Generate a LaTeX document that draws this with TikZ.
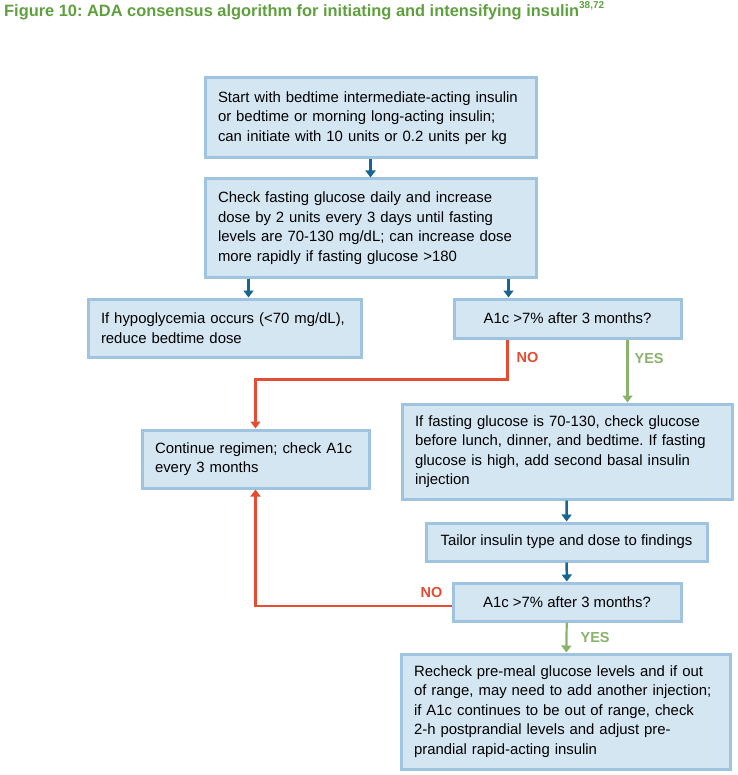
\documentclass[tikz,border=0pt]{standalone}
\usepackage{fontspec}
\setmainfont{Liberation Sans}
\usepackage{tikz}
\usetikzlibrary{arrows.meta}
\usetikzlibrary{positioning}
\definecolor{boxfill}{RGB}{213,230,243}
\definecolor{boxline}{RGB}{158,196,224}
\definecolor{flowblue}{RGB}{23,101,145}
\definecolor{nored}{RGB}{228,77,52}
\definecolor{yesgreen}{RGB}{139,178,107}
\definecolor{titlegreen}{RGB}{95,160,62}
\frenchspacing
\tikzset{
    stepbox/.style={
           rectangle,
           draw=boxline, fill=boxfill,
           line width=3pt,
           inner xsep=13pt, inner ysep=4pt,
           align=left,
           font=\fontsize{14.9}{19.5}\selectfont,
           },
    askbox/.style={
           stepbox,
           align=center,
           },
    flow/.style={
           draw=flowblue, line width=2.5pt,
           -{Triangle[width=10pt,length=7pt]},
           },
    noflow/.style={
           draw=nored, line width=2.2pt,
           -{Triangle[width=10pt,length=7pt]},
           },
    yesflow/.style={
           draw=yesgreen, line width=2.2pt,
           -{Triangle[width=10pt,length=7pt]},
           },
    answer/.style={
           font=\fontsize{14.5}{14.5}\selectfont\bfseries,
           inner sep=0pt,
           },
}
\begin{document}
\begin{tikzpicture}[x=1pt, y=-1pt]
 \useasboundingbox (0,0) rectangle (737,775);

 % Title with reference numbers
 \node[anchor=base west, inner sep=0pt, text=titlegreen,
  font=\fontsize{16.4}{16.4}\selectfont\bfseries] (title) at (4,17)
	{Figure 10: ADA consensus algorithm for initiating and intensifying insulin\raisebox{8pt}{\fontsize{10}{10}\selectfont 38,72}};

 % Left-aligned steps, boxes sized as in the chart
 \node[stepbox, text width=305pt, minimum height=80pt] (START) at (370.5,118)
	{Start with bedtime intermediate-acting insulin\\
	 or bedtime or morning long-acting insulin;\\
	 can initiate with 10 units or 0.2 units per kg};

 \node[stepbox, text width=305pt, minimum height=98pt] (CHECK) at (370.5,228)
	{Check fasting glucose daily and increase\\
	 dose by 2 units every 3 days until fasting\\
	 levels are 70-130 mg/dL; can increase dose\\
	 more rapidly if fasting glucose >180};

 \node[stepbox, text width=247pt, minimum height=58pt] (HYPO) at (224.5,328)
	{If hypoglycemia occurs (<70 mg/dL),\\
	 reduce bedtime dose};

 % Questions: centred text
 \node[askbox, minimum width=227pt, minimum height=39pt] (ASKA) at (567.5,318.5)
	{A1c >7\% after 3 months?};

 \node[stepbox, text width=201pt, minimum height=58pt] (CONT) at (255.5,459)
	{Continue regimen; check A1c\\
	 every 3 months};

 \node[stepbox, text width=304pt, minimum height=95pt] (FAST) at (567,451.5)
	{If fasting glucose is 70-130, check glucose\\
	 before lunch, dinner, and bedtime. If fasting\\
	 glucose is high, add second basal insulin\\
	 injection};

 \node[askbox, minimum width=281pt, minimum height=38pt] (TAIL) at (566.5,542)
	{Tailor insulin type and dose to findings};

 \node[askbox, minimum width=228pt, minimum height=38pt] (ASKB) at (567,602)
	{A1c >7\% after 3 months?};

 \node[stepbox, text width=303pt, minimum height=115pt] (RECH) at (565.5,711.5)
	{Recheck pre-meal glucose levels and if out\\
	 of range, may need to add another injection;\\
	 if A1c continues to be out of range, check\\
	 2-h postprandial levels and adjust pre-\\
	 prandial rapid-acting insulin};

 % Blue steps
 \path[flow] (START) -- (CHECK);
 \path[flow] ([xshift=45pt]CHECK.south west) -- ([xshift=45pt]CHECK.south west |- HYPO.north);
 \path[flow] ([xshift=-29pt]CHECK.south east) -- ([xshift=-29pt]CHECK.south east |- ASKA.north);
 \path[flow] (FAST) -- (TAIL);
 \path[flow] (TAIL) -- (ASKB);

 % Answers
 \path[noflow] ([xshift=-60pt]ASKA.south)
	-- node[answer, text=nored, anchor=west, xshift=8pt, pos=0.45]{NO} ++(0,40)
	-| (CONT.north);
 \path[yesflow] ([xshift=60pt]ASKA.south)
	-- node[answer, text=yesgreen, anchor=west, xshift=6pt, pos=0.3]{YES}
	([xshift=60pt]ASKA.south |- FAST.north);
 \path[noflow] ([yshift=-4pt]ASKB.west)
	node[answer, text=nored, anchor=south east, xshift=-8pt, yshift=7pt]{NO}
	-| (CONT.south);
 \path[yesflow] (ASKB) -- node[answer, text=yesgreen, anchor=west, xshift=13pt]{YES} (RECH);
\end{tikzpicture}
\end{document}
